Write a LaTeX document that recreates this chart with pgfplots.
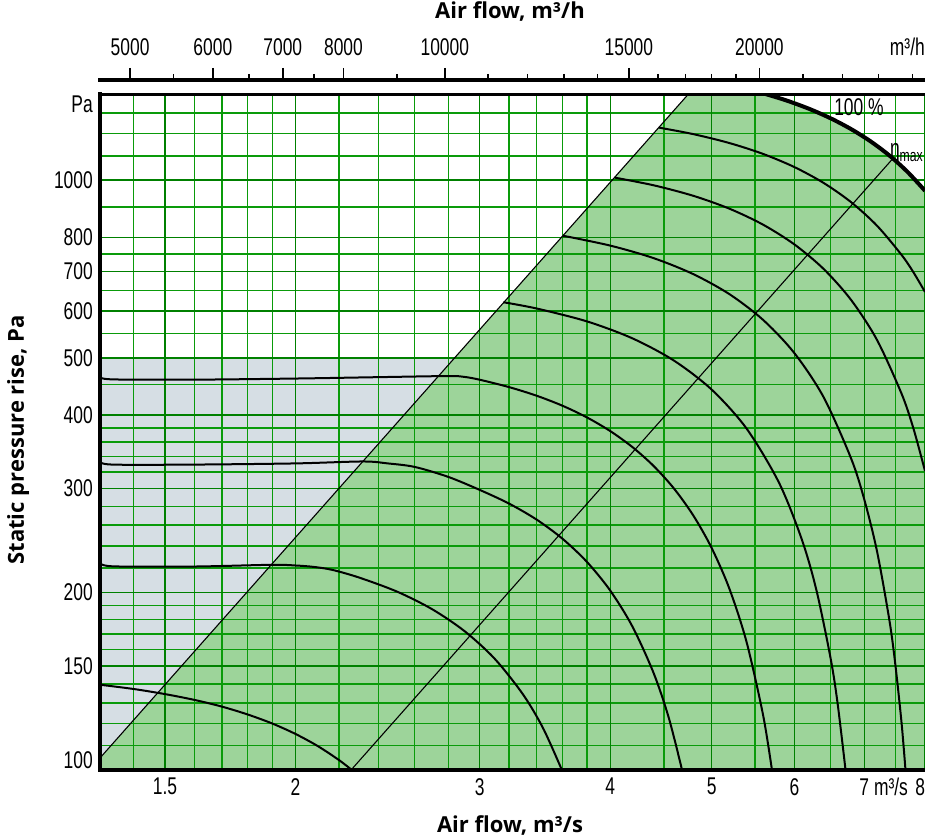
\documentclass[border=0pt]{standalone}
\usepackage{pgfplots}
\pgfplotsset{compat=1.18}
\usepackage{fontspec}
\setmainfont{Liberation Sans}
\newfontfamily\condfont[FakeStretch=0.72]{Liberation Sans}
\newfontfamily\titlefont{Open Sans}
\definecolor{gfill}{RGB}{157,212,154}
\definecolor{greyfill}{RGB}{214,222,228}
\definecolor{gmaj}{RGB}{0,128,0}
\definecolor{gmin}{RGB}{10,155,10}
\newcommand{\tl}{\condfont\fontsize{24.2}{26}\selectfont}
\newcommand{\ttl}{\titlefont\bfseries\fontsize{22}{26}\selectfont}

\begin{document}
\begin{tikzpicture}
% ---------- main chart ----------
\begin{axis}[
  set layers,
  at={(100pt,68pt)}, anchor=south west,
  scale only axis, width=825pt, height=676pt,
  xmode=log, ymode=log,
  xmin=1.3, xmax=8, ymin=100, ymax=1400,
  axis x line=bottom, axis y line=left,
  axis line style={line width=4.5pt, line cap=rect, -},
  % light grid lines (unlabelled values)
  xtick={1.4,1.6,1.7,1.8,1.9,2.2,2.4,2.6,2.8,3.2,3.4,3.6,3.8,4.5,5.5,6.5,7.5},
  xticklabels={},
  ytick={110,120,130,140,160,170,180,190,220,240,260,280,320,340,360,380,450,550,650,750,900,1100,1200,1300},
  yticklabels={},
  grid=major,
  major grid style={draw=gmin, line width=1.5pt},
  % dark grid lines with labels
  extra x ticks={1.5,2,3,4,5,6,7,8},
  extra x tick labels={1.5,2,3,4,5,6,{7\rlap{\ m³/s}},{\llap{8}}},
  extra y ticks={100,150,200,300,400,500,600,700,800,1000},
  extra y tick labels={{\raisebox{10pt}[\height][\depth]{100}},150,200,300,400,500,600,700,800,1000},
  extra tick style={grid=major, major grid style={draw=gmaj, line width=1.6pt}},
  major tick length=0pt, minor tick length=0pt,
  tick style={draw=none},
  tick label style={font=\tl},
  xticklabel style={anchor=north, inner sep=0pt, yshift=-8pt},
  yticklabel style={anchor=east, inner sep=0pt, xshift=-7pt},
]
% grey region
\addplot[on layer=axis background, fill=greyfill, draw=none]
  coordinates {(1.3,100) (1.3,500) (3.0,500) (3.0,100)};
% green operating region
\addplot[on layer=axis background, fill=gfill, draw=none]
  coordinates {(1.3,104.8) (4.752,1400) (5.63,1400) (5.9,1364.5) (6.2,1321) (6.5,1273)
               (6.8,1220.4) (7.1,1163) (7.4,1100.5) (7.7,1032.7) (8,959.4) (8,100) (1.3,100)};
% system line and eta max line
\addplot[black, line width=1.1pt] coordinates {(1.3,104.8) (4.752,1400)};
\addplot[black, line width=1.1pt] coordinates {(2.26,100) (7.44,1084)};
% 100 % curve
\addplot[black, line width=4pt, smooth] coordinates {(5.63,1400) (5.9,1364.5) (6.2,1321) (6.5,1273) (6.8,1220.4) (7.1,1163) (7.4,1100.5) (7.7,1032.7) (8,959.4)};
% speed curves
\addplot[black, line width=2pt, smooth] coordinates {(4.45,1228) (4.8,1197.2) (5.2,1156) (5.6,1108) (6.0,1052.5) (6.4,989.2) (6.8,917.5) (7.2,836.8) (7.6,746.6) (7.8,697.8) (8.0,646.4)};
\addplot[black, line width=2pt, smooth] coordinates {(4.04,1010) (4.4,980.3) (4.8,941.1) (5.2,894.7) (5.6,840.6) (6.0,778.3) (6.4,707.1) (6.8,626.3) (7.2,535.5) (7.6,434) (7.8,379.1) (8.0,321.3)};
\addplot[black, line width=2pt, smooth] coordinates {(3.605,805) (4.0,774.7) (4.4,737.7) (4.8,693.3) (5.2,640.9) (5.6,579.7) (6.0,509.1) (6.4,428.5) (6.8,337.2) (7.0,287.3) (7.2,234.4) (7.4,178.6) (7.5,149.5) (7.6,119.6) (7.664,100)};
\addplot[black, line width=2pt, smooth] coordinates {(3.16,621) (3.4,606.1) (3.8,576.2) (4.2,539.3) (4.6,494.7) (5.0,441.6) (5.4,379.3) (5.8,307) (6.1,245.8) (6.3,201.5) (6.5,154.3) (6.6,129.6) (6.716,100)};
\addplot[black, line width=2pt, smooth] coordinates {(1.3,464) (1.335,459.5) (1.6,459) (2.0,461) (2.4,463.5) (2.8,465.5) (2.9,464) (3.0,458.9) (3.2,445.9) (3.4,431.2) (3.6,414.6) (3.8,396.1) (4.0,375.5) (4.2,352.8) (4.4,327.8) (4.6,300.4) (4.8,270.5) (5.0,238) (5.2,202.9) (5.4,164.9) (5.6,124) (5.711,100)};
\addplot[black, line width=2pt, smooth] coordinates {(1.3,333.5) (1.335,329.5) (1.6,329.5) (2.0,331) (2.32,333.5) (2.45,331) (2.6,326.5) (2.8,314) (3.0,298.5) (3.2,283) (3.4,265.9) (3.6,246.7) (3.8,225.3) (4.0,201.4) (4.2,175.1) (4.4,146.1) (4.55,122.6) (4.685,100)};
\addplot[black, line width=2pt, smooth] coordinates {(1.3,225) (1.335,221.5) (1.6,221.3) (1.898,222.8) (2.0,222.2) (2.08,221) (2.167,218.5) (2.3,212) (2.5,200.7) (2.7,187.5) (2.9,172.1) (3.1,154.5) (3.3,134.4) (3.45,117.7) (3.596,100)};
\addplot[black, line width=2pt, smooth] coordinates {(1.3,139.5) (1.4,137.2) (1.5,134.5) (1.6,131.5) (1.7,128.1) (1.8,124.2) (1.9,119.9) (2.0,115.1) (2.1,109.8) (2.2,104) (2.264,100)};
% top border of the chart
\draw[line width=4.5pt, line cap=rect] (rel axis cs:0,1) -- (rel axis cs:1,1);
\end{axis}

% ---------- top axis in m3/h ----------
\begin{axis}[
  at={(100pt,748pt)}, anchor=south west,
  scale only axis, width=825pt, height=10pt,
  xmode=log, xmin=4680, xmax=28800, ymin=0, ymax=1,
  hide y axis, axis x line*=top,
  axis line style={line width=4.5pt, line cap=rect, -},
  xtick={5000,6000,7000,8000,10000,15000,20000},
  xticklabels={5000,6000,7000,8000,10000,15000,20000},
  minor xtick={5500,6500,7500,9000,11000,12000,13000,14000,16000,17000,18000,19000,22000,24000,26000,28000},
  tick align=outside,
  major tick length=12pt, minor tick length=6pt,
  tick style={black, line width=1.5pt},
  tick label style={font=\tl},
  xticklabel style={anchor=south, inner sep=0pt, yshift=12.5pt},
]
\end{axis}

% ---------- texts ----------
\node[anchor=base, font=\ttl] at (510pt,819pt) {Air flow, m³/h};
\node[anchor=base, font=\ttl] at (510pt,6pt) {Air flow, m³/s};
\node[anchor=base, rotate=90, font=\ttl] at (24pt,398pt) {Static pressure rise, Pa};
\node[anchor=base east, inner sep=0pt, font=\tl] at (93pt,725pt) {Pa};
\node[anchor=base east, inner sep=0pt, font=\tl] at (925pt,782.5pt) {m³/h};
\node[anchor=base, inner sep=0pt, font=\tl] at (859pt,722pt) {100 \%};
\node[anchor=base east, inner sep=0pt, font=\tl] at (923pt,681pt) {η\raisebox{-5pt}{\fontsize{17}{17}\selectfont max}};

\pgfresetboundingbox
\useasboundingbox (0,0) rectangle (925pt,838pt);
\end{tikzpicture}
\end{document}
